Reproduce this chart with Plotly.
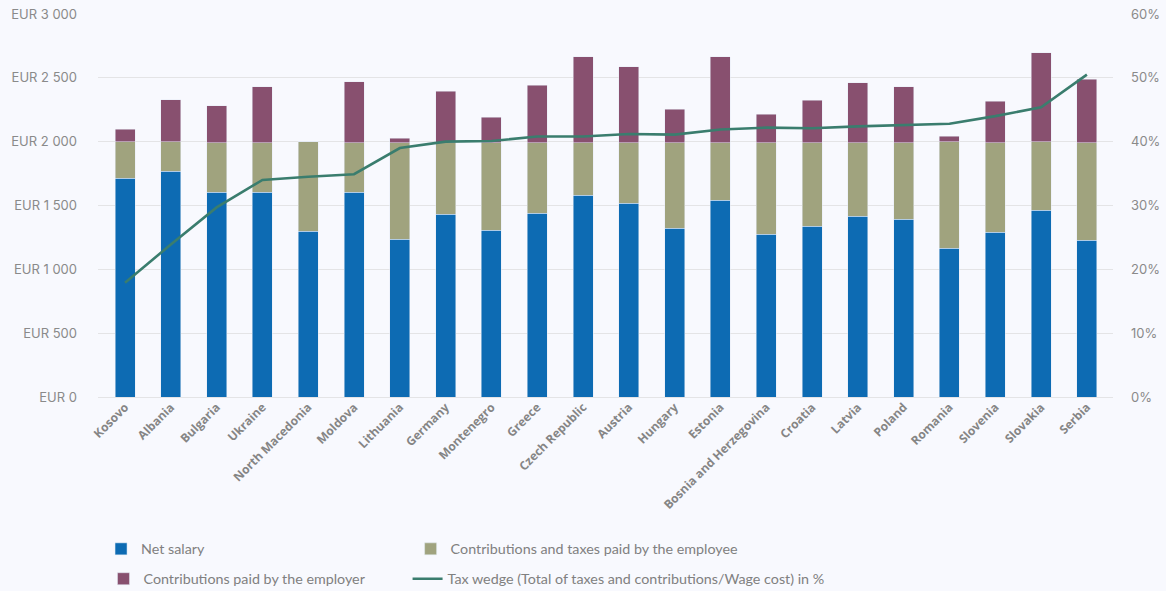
import plotly.graph_objects as go

countries = ["Kosovo", "Albania", "Bulgaria", "Ukraine", "North Macedonia", "Moldova",
             "Lithuania", "Germany", "Montenegro", "Greece", "Czech Republic", "Austria",
             "Hungary", "Estonia", "Bosnia and Herzegovina", "Croatia", "Latvia", "Poland",
             "Romania", "Slovenia", "Slovakia", "Serbia"]

net_salary = [1713, 1768, 1604, 1604, 1299, 1604, 1237, 1432, 1307, 1440, 1580, 1518,
              1323, 1541, 1276, 1338, 1416, 1393, 1166, 1291, 1463, 1229]
gross_salary = [2000, 2000, 1992, 1992, 2000, 1992, 1992, 1992, 1992, 1992, 1992, 1992,
                1992, 1992, 1992, 1992, 1992, 1992, 2000, 1992, 2000, 1992]
wage_cost = [2096, 2330, 2283, 2432, 2000, 2471, 2026, 2393, 2190, 2440, 2667, 2588,
             2252, 2667, 2213, 2323, 2463, 2432, 2041, 2315, 2698, 2487]
tax_wedge = [17.9, 23.9, 29.7, 34.0, 34.5, 34.9, 39.0, 40.0, 40.1, 40.8, 40.8, 41.2,
             41.1, 41.9, 42.2, 42.1, 42.4, 42.6, 42.8, 44.0, 45.4, 50.5]

employee_contrib = [g - n for g, n in zip(gross_salary, net_salary)]
employer_contrib = [w - g for w, g in zip(wage_cost, gross_salary)]

left_tickvals = [0, 500, 1000, 1500, 2000, 2500, 3000]
left_ticktext = ["EUR 0", "EUR 500", "EUR 1 000", "EUR 1 500", "EUR 2 000", "EUR 2 500", "EUR 3 000"]
right_tickvals = [0, 10, 20, 30, 40, 50, 60]
right_ticktext = ["0%", "10%", "20%", "30%", "40%", "50%", "60%"]

BLUE = "#0d6bb3"
OLIVE = "#a0a37e"
PURPLE = "#88506f"
TEAL = "#3a7d6e"
BG = "#f8f9fe"
GRID = "#e4e4e6"

fig = go.Figure()
fig.add_trace(go.Bar(x=countries, y=net_salary, name="Net salary", marker_color=BLUE,
                     legend="legend"))
fig.add_trace(go.Bar(x=countries, y=employee_contrib,
                     name="Contributions and taxes paid by the employee", marker_color=OLIVE,
                     legend="legend2"))
fig.add_trace(go.Bar(x=countries, y=employer_contrib, name="Contributions paid by the employer",
                     marker_color=PURPLE, legend="legend3"))
fig.add_trace(go.Scatter(x=countries, y=tax_wedge, mode="lines", yaxis="y2",
                         name="Tax wedge (Total of taxes and contributions/Wage cost) in %",
                         line=dict(color=TEAL, width=2.6), legend="legend4"))

tick_font = dict(family="Inter", size=13, color="#8a8a8a")
legend_font = dict(family="Lato", size=14.3, color="#808080")


def leg(x, y):
    return dict(orientation="h", x=x, xanchor="left", y=y, yanchor="middle",
                font=legend_font, bgcolor="rgba(0,0,0,0)")


fig.update_layout(
    width=1166, height=591,
    margin=dict(l=98, r=53, t=14, b=194, autoexpand=False),
    paper_bgcolor=BG, plot_bgcolor=BG,
    barmode="stack", bargap=0.563,
    showlegend=True,
    xaxis=dict(range=[-0.59, 21.57], tickangle=-45,
               tickfont=dict(family="Open Sans", size=12, color="#858585", weight="bold"),
               showgrid=False, showline=False, ticks="", automargin=False),
    yaxis=dict(range=[0, 3000], tickvals=left_tickvals, ticktext=left_ticktext,
               tickfont=tick_font, gridcolor=GRID, gridwidth=1, zeroline=True,
               zerolinecolor=GRID, zerolinewidth=1, ticklabelstandoff=20, automargin=False),
    yaxis2=dict(range=[0, 60], tickvals=right_tickvals, ticktext=right_ticktext,
                overlaying="y", side="right", tickfont=tick_font, showgrid=False,
                zeroline=False, ticklabelstandoff=17, automargin=False),
    legend=leg(0.003, -0.397),
    legend2=leg(0.308, -0.397),
    legend3=leg(0.0054, -0.475),
    legend4=leg(0.305, -0.475),
)

fig.write_html("out.html", config={"displayModeBar": False},
               post_script="document.body.style.margin='0px';")
